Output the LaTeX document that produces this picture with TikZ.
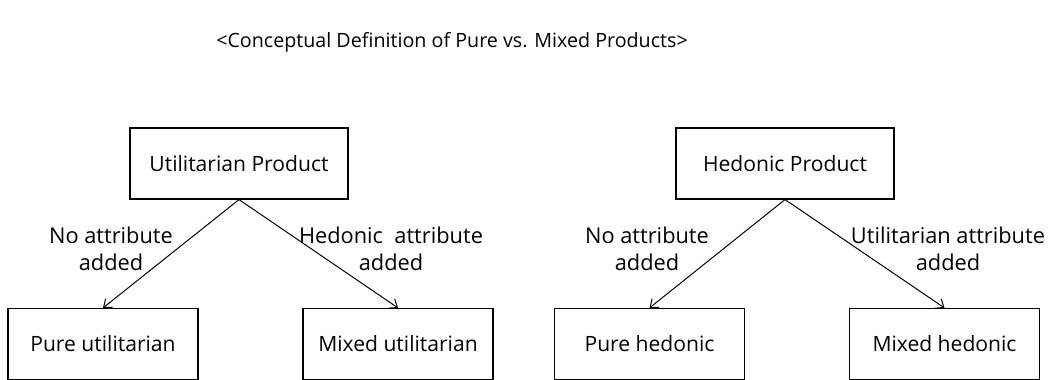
\documentclass[tikz,border=0pt]{standalone}
\usepackage{fontspec}
\setmainfont{Open Sans}
\usetikzlibrary{positioning,arrows.meta}
\tikzset{
>={Straight Barb[length=5pt,width=8pt]},
  topbox/.style={
    rectangle,
    draw=black, line width=0.8pt,
    minimum width=5.45cm,
    minimum height=1.775cm,
    font=\fontsize{15}{17}\selectfont,
    text centered},
  leafbox/.style={
    topbox,
    minimum width=4.75cm},
  line/.style={draw, line width=0.7pt, ->},
  edgelabel/.style={
    align=center,
    font=\fontsize{15.5}{19}\selectfont},
}
\begin{document}
\begin{tikzpicture}[x=0.025cm,y=0.025cm]
  \useasboundingbox (0,0) rectangle (1056,380);
  \node[font=\fontsize{14}{16}\selectfont] (title) at (452,338)
    {<Conceptual Definition of Pure vs. Mixed Products>};
  % left tree
  \node[topbox] (util) at (239,216.5) {Utilitarian Product};
  \node[leafbox] (pureu) at (103,36) {Pure utilitarian};
  \node[leafbox] (mixu) at (398,36) {Mixed utilitarian};
  % right tree
  \node[topbox] (hedo) at (785,216.5) {Hedonic Product};
  \node[leafbox] (pureh) at (649.5,36) {Pure hedonic};
  \node[leafbox] (mixh) at (944.5,36) {Mixed hedonic};
  % connectors
  \draw[line] (util.south) -- (pureu.north);
  \draw[line] (util.south) -- (mixu.north);
  \draw[line] (hedo.south) -- (pureh.north);
  \draw[line] (hedo.south) -- (mixh.north);
  %% labels
  \node[edgelabel] (lab1) at (111,131) {No attribute\\added};
  \node[edgelabel] (lab2) at (391,131) {Hedonic\ \ attribute\\added};
  \node[edgelabel] (lab3) at (647,131) {No attribute\\added};
  \node[edgelabel] (lab4) at (948,131) {Utilitarian\ attribute\\added};
\end{tikzpicture}
\end{document}
